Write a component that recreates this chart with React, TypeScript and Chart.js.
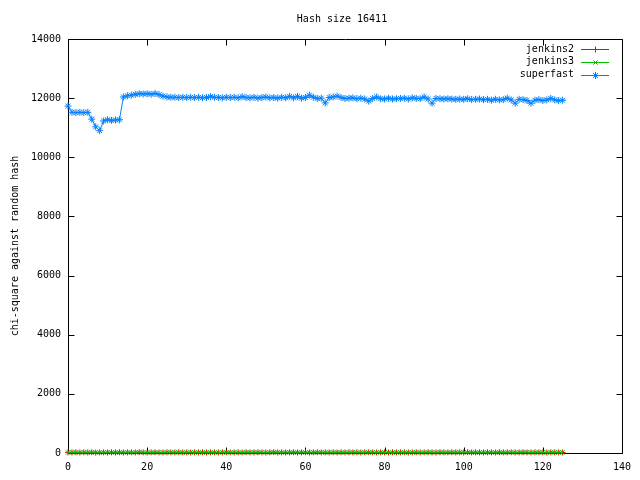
import React, { useEffect, useRef } from "react";
import { Chart, registerables } from "chart.js";
import { drawPoint } from "chart.js/helpers";

Chart.register(...registerables);

const TITLE = "Hash size 16411";
const Y_LABEL = "chi-square against random hash";
const SERIES_NAMES = ["jenkins2", "jenkins3", "superfast"];
const COLORS = ["#ff0000", "#00c000", "#0080ff"];
const POINT_STYLES = ["cross", "crossRot", "star"];
const X_MIN = 0;
const X_MAX = 140;
const X_STEP = 20;
const Y_MIN = 0;
const Y_MAX = 14000;
const Y_STEP = 2000;

const jenkins2 = [
  21, 18, 25, 16, 23, 19, 27, 14, 22, 20,
  17, 24, 19, 26, 15, 21, 23, 18, 28, 20,
  16, 22, 25, 19, 17, 24, 21, 18, 26, 20,
  23, 15, 22, 19, 27, 18, 21, 24, 16, 20,
  25, 22, 17, 23, 19, 26, 21, 18, 24, 20,
  15, 22, 27, 19, 23, 17, 21, 25, 18, 20,
  24, 16, 22, 26, 19, 21, 17, 23, 20, 25,
  18, 22, 19, 24, 16, 21, 27, 20, 18, 23,
  22, 15, 25, 19, 21, 24, 17, 20, 26, 18,
  22, 23, 19, 16, 24, 21, 20, 25, 18, 22,
  17, 27, 19, 23, 21, 16, 24, 20, 18, 25,
  22, 19, 23, 17, 21, 26, 20, 18, 24, 22,
  19, 15, 23, 21, 20, 18,
];

const jenkins3 = [
  19, 23, 17, 22, 26, 18, 20, 24, 16, 21,
  25, 19, 22, 18, 24, 20, 17, 23, 27, 19,
  21, 16, 24, 20, 22, 18, 25, 19, 23, 17,
  20, 26, 18, 22, 19, 24, 21, 17, 23, 25,
  18, 21, 24, 19, 16, 22, 20, 26, 19, 23,
  21, 18, 25, 20, 17, 24, 22, 19, 21, 26,
  19, 23, 17, 21, 25, 18, 22, 20, 24, 16,
  22, 19, 26, 18, 21, 23, 17, 24, 20, 19,
  25, 21, 18, 23, 20, 16, 24, 22, 19, 21,
  18, 24, 20, 22, 26, 17, 21, 19, 23, 20,
  24, 18, 22, 19, 21, 25, 17, 23, 20, 22,
  16, 21, 24, 19, 22, 18, 25, 20, 17, 23,
  21, 19, 24, 18, 22, 20,
];

const superfast = [
  11730, 11520, 11510, 11520, 11510, 11520, 11290, 11030, 10900, 11230,
  11270, 11250, 11260, 11270, 12040, 12080, 12100, 12130, 12150, 12140,
  12150, 12130, 12160, 12120, 12070, 12040, 12030, 12030, 12020, 12030,
  12020, 12030, 12020, 12030, 12010, 12020, 12050, 12030, 12020, 12010,
  12030, 12020, 12030, 12010, 12050, 12020, 12010, 12030, 12000, 12020,
  12040, 12010, 12020, 12000, 12030, 12010, 12060, 12010, 12060, 12000,
  12020, 12100, 12030, 11990, 12000, 11840, 12020, 12040, 12070, 12020,
  11990, 12000, 12010, 11980, 12000, 11970, 11900, 11990, 12040, 11980,
  11970, 12000, 11970, 11980, 11990, 12000, 11970, 12010, 11990, 11980,
  12040, 11970, 11830, 11990, 11980, 11970, 11980, 11970, 11960, 11970,
  11960, 11980, 11950, 11960, 11970, 11950, 11960, 11930, 11960, 11940,
  11950, 12000, 11940, 11830, 11960, 11950, 11920, 11830, 11930, 11950,
  11920, 11940, 11990, 11940, 11920, 11930,
];

const SERIES = [jenkins2, jenkins3, superfast];
const FONT = "'DejaVu Sans Mono', monospace";

const toPoints = (arr: number[]) => arr.map((y, i) => ({ x: i, y }));

const framePlugin = {
  id: "gnuFrame",
  beforeDatasetsDraw(chart: any) {
    const { ctx, chartArea } = chart;
    const xs = chart.scales.x;
    const ys = chart.scales.y;
    const L = Math.round(chartArea.left) + 0.5;
    const R = Math.round(chartArea.right) + 0.5;
    const T = Math.round(chartArea.top) + 0.5;
    const B = Math.round(chartArea.bottom) + 0.5;
    const TL = 6;
    ctx.save();
    ctx.strokeStyle = "#000000";
    ctx.lineWidth = 1;
    ctx.beginPath();
    ctx.rect(L, T, R - L, B - T);
    ys.ticks.forEach((t: any) => {
      const y = Math.round(ys.getPixelForValue(t.value)) + 0.5;
      ctx.moveTo(L, y);
      ctx.lineTo(L + TL, y);
      ctx.moveTo(R, y);
      ctx.lineTo(R - TL, y);
    });
    xs.ticks.forEach((t: any) => {
      const x = Math.round(xs.getPixelForValue(t.value)) + 0.5;
      ctx.moveTo(x, B);
      ctx.lineTo(x, B - TL);
      ctx.moveTo(x, T);
      ctx.lineTo(x, T + TL);
    });
    ctx.stroke();
    ctx.restore();
  },
  afterDraw(chart: any) {
    const { ctx, chartArea } = chart;
    ctx.save();
    ctx.fillStyle = "#000000";
    ctx.font = "10px " + FONT;
    // title
    ctx.textAlign = "center";
    ctx.textBaseline = "middle";
    ctx.fillText(TITLE, (chartArea.left + chartArea.right) / 2 - 3, 19);
    // y label
    ctx.save();
    ctx.translate(15, (chartArea.top + chartArea.bottom) / 2);
    ctx.rotate(-Math.PI / 2);
    ctx.fillText(Y_LABEL, 0, 0);
    ctx.restore();
    // legend
    const textRight = chartArea.right - 48;
    const lineL = chartArea.right - 41;
    const lineR = chartArea.right - 13;
    chart.data.datasets.forEach((ds: any, i: number) => {
      const y = chartArea.top + 10 + i * 12.8;
      ctx.fillStyle = "#000000";
      ctx.textAlign = "right";
      ctx.fillText(ds.label, textRight, y);
      const yy = Math.round(y) + 0.5;
      const color = COLORS[i];
      ctx.strokeStyle = color;
      ctx.fillStyle = color;
      ctx.lineWidth = 1;
      ctx.beginPath();
      ctx.moveTo(lineL, yy);
      ctx.lineTo(lineR, yy);
      ctx.stroke();
      ctx.strokeStyle = color;
      ctx.fillStyle = color;
      drawPoint(
        ctx,
        { pointStyle: POINT_STYLES[i], radius: i === 2 ? 3.5 : 3, rotation: 0, borderWidth: 1 },
        Math.round((lineL + lineR) / 2) + 0.5,
        yy
      );
    });
    ctx.restore();
  },
};

export default function App() {
  const canvasRef = useRef<HTMLCanvasElement | null>(null);

  useEffect(() => {
    const canvas = canvasRef.current;
    if (!canvas) return;
    const datasets = SERIES.map((arr, i) => ({
      label: SERIES_NAMES[i],
      data: toPoints(arr),
      borderColor: COLORS[i],
      backgroundColor: COLORS[i],
      borderWidth: 1,
      pointStyle: POINT_STYLES[i],
      pointRadius: i === 2 ? 3.5 : 3,
      pointBorderWidth: 1,
      pointBorderColor: COLORS[i],
      pointBackgroundColor: COLORS[i],
      tension: 0,
      clip: false,
      order: 3 - i,
    }));
    const chart = new Chart(canvas, {
      type: "line",
      data: { datasets },
      options: {
        animation: false,
        responsive: false,
        maintainAspectRatio: false,
        layout: { padding: { left: 0, top: 39, right: 18, bottom: 0 } },
        plugins: {
          legend: { display: false },
          title: { display: false },
          tooltip: { enabled: false },
        },
        scales: {
          x: {
            type: "linear",
            min: X_MIN,
            max: X_MAX,
            grid: { display: false, drawTicks: false },
            border: { display: false },
            ticks: {
              stepSize: X_STEP,
              padding: 8,
              color: "#000000",
              font: { family: FONT, size: 10 },
              maxRotation: 0,
              callback: (v: any) => String(v),
            },
            afterFit: (s: any) => {
              s.height = 27;
            },
          },
          y: {
            type: "linear",
            min: Y_MIN,
            max: Y_MAX,
            grid: { display: false, drawTicks: false },
            border: { display: false },
            ticks: {
              stepSize: Y_STEP,
              padding: 7,
              color: "#000000",
              font: { family: FONT, size: 10 },
              callback: (v: any) => String(v),
            },
            afterFit: (s: any) => {
              s.width = 68;
            },
          },
        },
      },
      plugins: [framePlugin],
    });
    return () => chart.destroy();
  }, []);

  return (
    <div style={{ position: "fixed", left: 0, top: 0, width: 640, height: 480, background: "#ffffff" }}>
      <canvas ref={canvasRef} width={640} height={480} style={{ width: 640, height: 480 }} />
    </div>
  );
}
